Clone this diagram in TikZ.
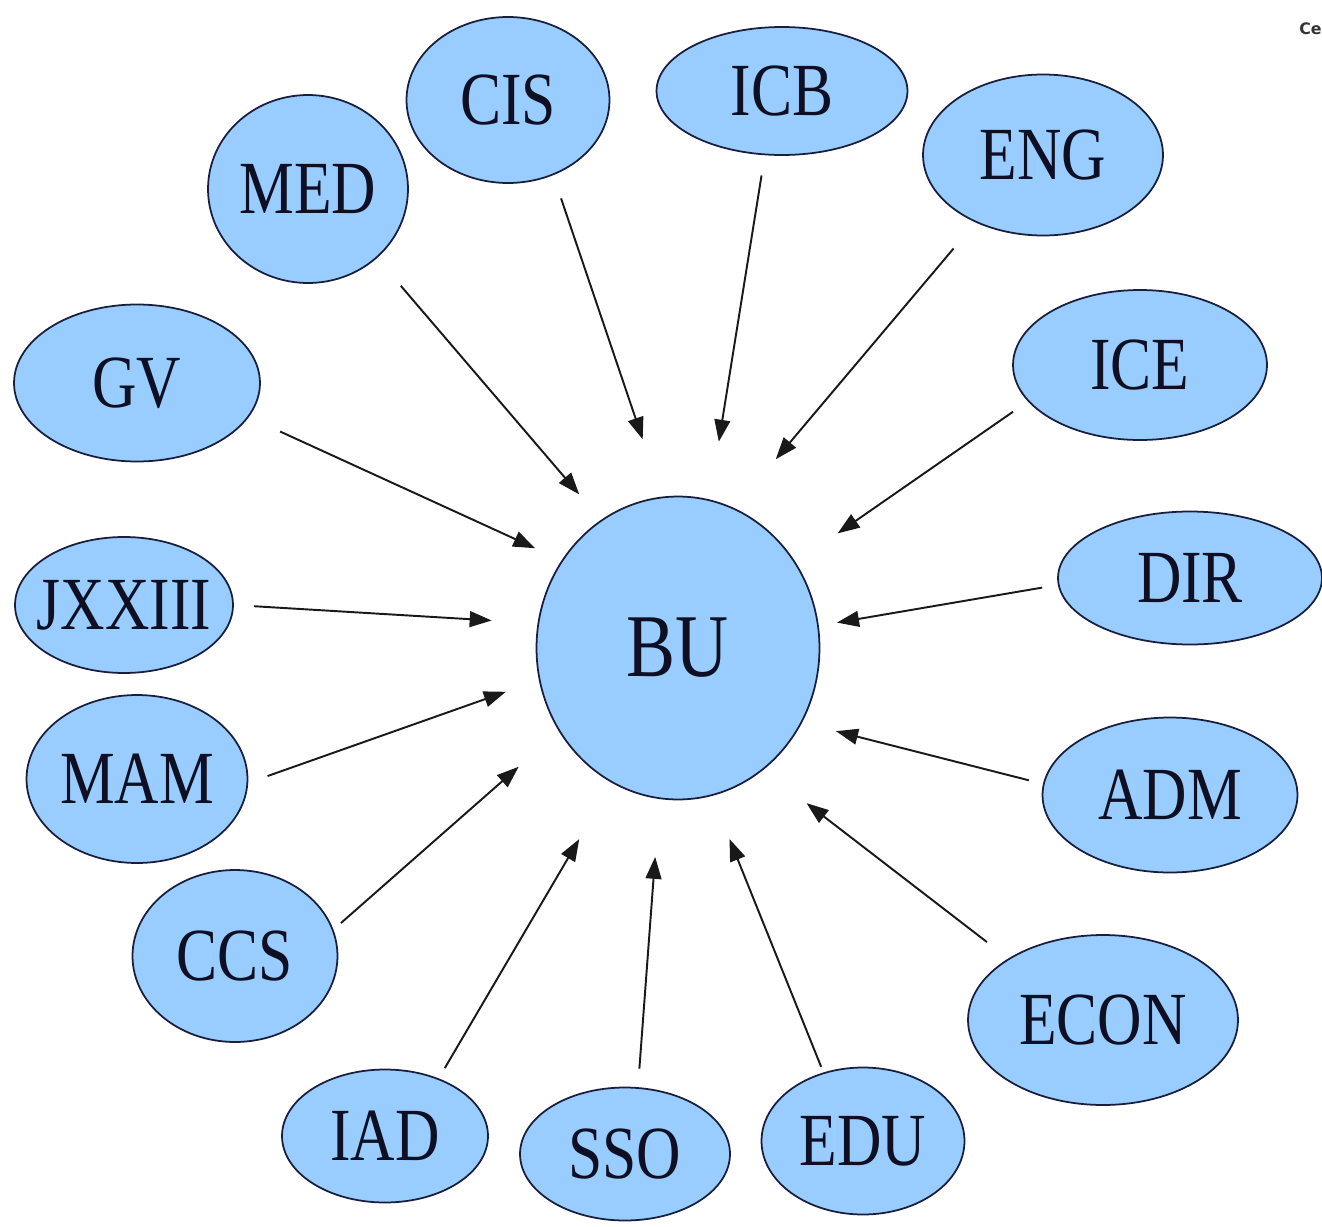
\documentclass[tikz,border=0pt]{standalone}
\usepackage{fontspec}
\usepackage{graphicx}
\setmainfont{Liberation Serif}
\newfontfamily\labfont{Liberation Serif}
\newfontfamily\smallsans{DejaVu Sans}
\usetikzlibrary{shapes.geometric,arrows.meta}
\definecolor{bubfill}{RGB}{153,204,255}
\definecolor{bubline}{RGB}{25,30,60}
\definecolor{txt}{RGB}{15,15,35}
\definecolor{arrcol}{RGB}{25,25,25}
\newcommand\lbl[1]{\makebox[0pt]{\scalebox{0.82}[1]{#1}}}
\begin{document}
\begin{tikzpicture}[x=0.02cm,y=-0.02cm,
  bub/.style={ellipse, draw=bubline, fill=bubfill, line width=1pt, inner sep=0pt,
    text=txt, font=\labfont\fontsize{42.7}{44}\selectfont},
  big/.style={font=\labfont\fontsize{51}{53}\selectfont},
  arr/.style={draw=arrcol, line width=1.1pt, -{Triangle[length=12.5pt,width=9pt]}}]

\useasboundingbox[fill=white] (0,0) rectangle (1322,1227);

\node[bub, big, minimum width=5.66cm, minimum height=6.06cm] (BU) at (678,648) {\lbl{BU}};

\node[bub, minimum width=4.0cm,  minimum height=3.76cm] (MED)    at (308,189)  {\lbl{MED}};
\node[bub, minimum width=4.06cm, minimum height=3.32cm] (CIS)    at (508,100)  {\lbl{CIS}};
\node[bub, minimum width=5.02cm, minimum height=2.56cm] (ICB)    at (782,91)   {\lbl{ICB}};
\node[bub, minimum width=4.8cm,  minimum height=3.22cm] (ENG)    at (1043,155) {\lbl{ENG}};
\node[bub, minimum width=5.08cm, minimum height=3.0cm]  (ICE)    at (1140,365) {\lbl{ICE}};
\node[bub, minimum width=5.28cm, minimum height=2.66cm] (DIR)    at (1190,578) {\lbl{DIR}};
\node[bub, minimum width=5.1cm,  minimum height=3.1cm]  (ADM)    at (1170,795) {\lbl{ADM}};
\node[bub, minimum width=5.4cm,  minimum height=3.4cm]  (ECON)   at (1103,1020){\lbl{ECON}};
\node[bub, minimum width=4.06cm, minimum height=2.94cm] (EDU)    at (863,1141) {\lbl{EDU}};
\node[bub, minimum width=4.2cm,  minimum height=2.66cm] (SSO)    at (625,1154) {\lbl{SSO}};
\node[bub, minimum width=4.12cm, minimum height=2.66cm] (IAD)    at (385,1136) {\lbl{IAD}};
\node[bub, minimum width=4.1cm,  minimum height=3.44cm] (CCS)    at (235,956)  {\lbl{CCS}};
\node[bub, minimum width=4.42cm, minimum height=3.36cm] (MAM)    at (137,779)  {\lbl{MAM}};
\node[bub, minimum width=4.36cm, minimum height=2.72cm] (JXXIII) at (124,605)  {\lbl{JXXIII}};
\node[bub, minimum width=4.92cm, minimum height=3.14cm] (GV)     at (137,383)  {\lbl{GV}};

\node[font=\smallsans\bfseries\fontsize{9}{10}\selectfont, text=black!80, anchor=west, inner sep=0pt] (ce) at (1299,29) {Ce};

\draw[arr, shorten <=0.73cm, shorten >=0.67cm] (MED.315.3)   -- (BU.121.0);
\draw[arr, shorten <=0.49cm, shorten >=1.21cm] (CIS.301.4)   -- (BU.96.9);
\draw[arr, shorten <=0.41cm, shorten >=1.17cm] (ICB.255.2)   -- (BU.78.7);
\draw[arr, shorten <=0.68cm, shorten >=1.28cm] (ENG.225.9)   -- (BU.68.1);
\draw[arr, shorten <=0.36cm, shorten >=1.02cm] (ICE.198.7)   -- (BU.36.7);
\draw[arr, shorten <=0.32cm, shorten >=0.37cm] (DIR.183.5)   -- (BU.9.7);
\draw[arr, shorten <=0.29cm, shorten >=0.70cm] (ADM.175.5)   -- (BU.329.7);
\draw[arr, shorten <=0.54cm, shorten >=1.09cm] (ECON.147.6)  -- (BU.305.8);
\draw[arr, shorten <=0.12cm, shorten >=0.93cm] (EDU.120.5)   -- (BU.283.4);
\draw[arr, shorten <=0.37cm, shorten >=1.16cm] (SSO.79.2)    -- (BU.263.2);
\draw[arr, shorten <=0.24cm, shorten >=1.30cm] (IAD.47.3)    -- (BU.244.5);
\draw[arr, shorten <=0.20cm, shorten >=1.07cm] (CCS.15.2)    -- (BU.215.1);
\draw[arr, shorten <=0.41cm, shorten >=0.70cm] (MAM.358.3)   -- (BU.193.3);
\draw[arr, shorten <=0.40cm, shorten >=0.92cm] (JXXIII.0.4)  -- (BU.170.9);
\draw[arr, shorten <=0.69cm, shorten >=0.58cm] (GV.343.8)    -- (BU.143.9);
\end{tikzpicture}
\end{document}
